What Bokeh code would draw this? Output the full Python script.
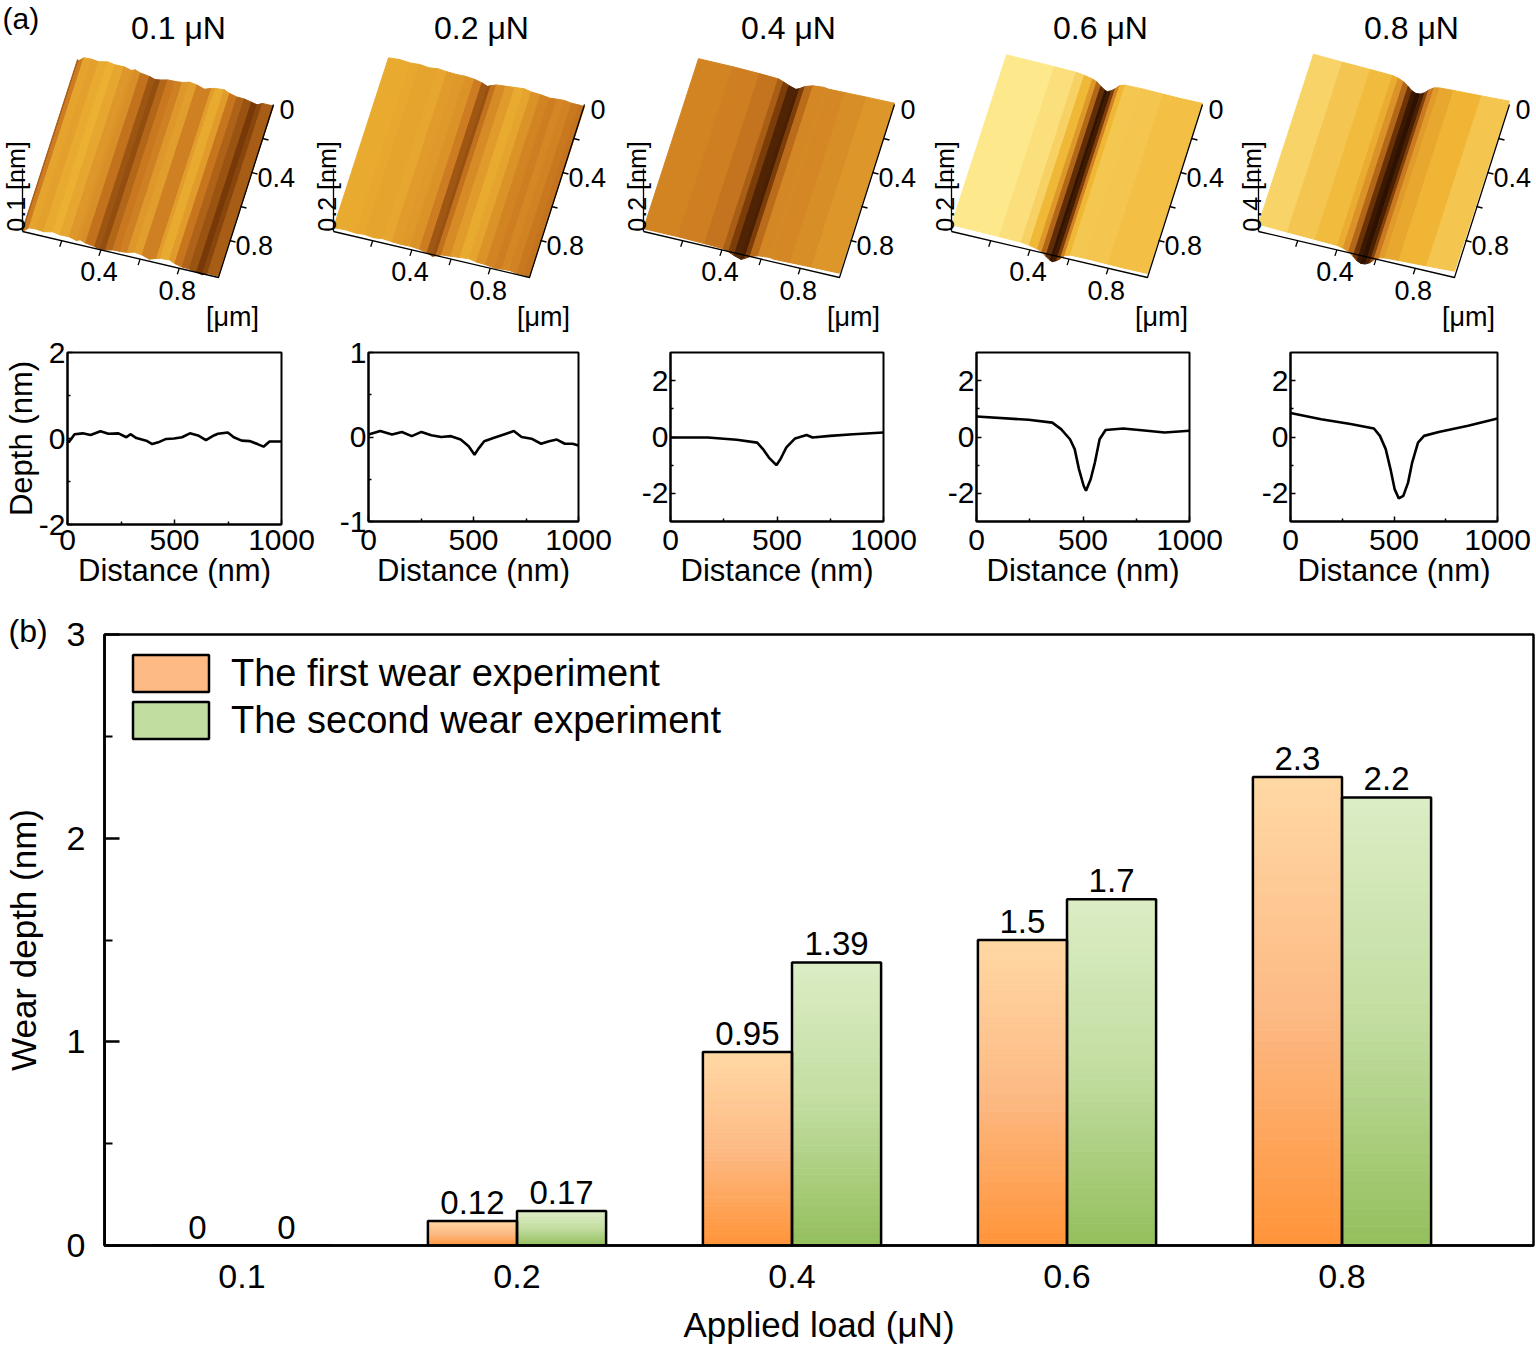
import math
from bokeh.plotting import figure
from bokeh.models import Range1d, FixedTicker, Legend, LegendItem, Title
from bokeh.layouts import column, row
from bokeh.core.properties import value
from bokeh.embed import file_html
from bokeh.resources import INLINE

FONT = "Liberation Sans"

# ---------------- data: panel (b) ----------------
loads = ["0.1", "0.2", "0.4", "0.6", "0.8"]
first_wear = [0, 0.12, 0.95, 1.5, 2.3]
second_wear = [0, 0.17, 1.39, 1.7, 2.2]
series_names = ["The first wear experiment", "The second wear experiment"]

# ---------------- data: panel (a) ----------------
panel_titles = ["0.1 μN", "0.2 μN", "0.4 μN", "0.6 μN", "0.8 μN"]
z_labels = ["0.1 [nm]", "0.2 [nm]", "0.2 [nm]", "0.2 [nm]", "0.4 [nm]"]
lateral_ticks = ["0.4", "0.8"]
depth_ticks = ["0", "0.4", "0.8"]

dist_01 = [0, 6, 33, 71, 108, 154, 191, 238, 275, 294, 322, 368, 396, 424, 461, 498,
           535, 572, 610, 647, 684, 703, 749, 777, 814, 851, 888, 916, 944, 981, 1000]
depth_01 = [-0.05, -0.09, 0.10, 0.12, 0.08, 0.17, 0.11, 0.12, 0.03, 0.10, 0.01, -0.05,
            -0.13, -0.09, -0.01, 0.0, 0.03, 0.12, 0.07, -0.04, 0.07, 0.11, 0.14, 0.03,
            -0.05, -0.06, -0.13, -0.19, -0.07, -0.07, -0.07]

dist_02 = [0, 56, 112, 159, 206, 252, 299, 346, 393, 439, 477, 505, 523, 551, 598, 645,
           692, 729, 776, 822, 860, 897, 935, 972, 1000]
depth_02 = [0.03, 0.07, 0.03, 0.06, 0.01, 0.06, 0.02, 0.0, 0.01, -0.03, -0.11, -0.21,
            -0.14, -0.05, -0.01, 0.03, 0.07, 0.0, -0.02, -0.08, -0.05, -0.03, -0.08, -0.08, -0.10]

dist_04 = [0, 175, 311, 407, 434, 462, 497, 516, 544, 585, 639, 667, 749, 858, 1000]
depth_04 = [-0.02, -0.02, -0.10, -0.20, -0.43, -0.73, -1.0, -0.79, -0.37, -0.05, 0.07,
            -0.02, 0.04, 0.10, 0.16]

dist_06 = [0, 244, 356, 397, 439, 461, 481, 503, 514, 536, 556, 578, 606, 689, 800, 883, 1000]
depth_06 = [0.73, 0.61, 0.51, 0.28, -0.08, -0.43, -1.14, -1.73, -1.91, -1.5, -0.9, -0.08,
            0.25, 0.30, 0.22, 0.16, 0.22]

dist_08 = [0, 148, 290, 403, 432, 460, 483, 503, 523, 545, 568, 588, 616, 645, 716, 858, 1000]
depth_08 = [0.85, 0.63, 0.46, 0.30, 0.04, -0.43, -1.14, -1.85, -2.18, -2.09, -1.62, -0.9,
            -0.2, 0.04, 0.18, 0.40, 0.66]

profiles = [(dist_01, depth_01), (dist_02, depth_02), (dist_04, depth_04),
            (dist_06, depth_06), (dist_08, depth_08)]
profile_ylim = [(-2, 2), (-1, 1), (-3, 3), (-3, 3), (-3, 3)]
profile_yticks = [[-2, 0, 2], [-1, 0, 1], [-2, 0, 2], [-2, 0, 2], [-2, 0, 2]]
profile_yminor = [[-1, 1], [-0.5, 0.5], [-1, 1], [-1, 1], [-1, 1]]
profile_xticks = [0, 500, 1000]
profile_xminor = [250, 750]


# ---------------- helpers ----------------
def hexc(c):
    return "#%02x%02x%02x" % tuple(int(round(min(255, max(0, a)))) for a in c)


def interp_stops(stops, s):
    s = min(max(s, 0.0), 1.0)
    for (s0, c0), (s1, c1) in zip(stops[:-1], stops[1:]):
        if s <= s1:
            t = (s - s0) / (s1 - s0)
            return hexc([a + (b - a) * t for a, b in zip(c0, c1)])
    return hexc(stops[-1][1])


AFM_STOPS = [(0.0, (40, 14, 0)), (0.25, (122, 58, 8)), (0.5, (204, 122, 32)),
             (0.75, (240, 182, 52)), (1.0, (255, 238, 150))]
ORANGE_STOPS = [(0.0, (255, 148, 56)), (0.5, (253, 186, 133)), (1.0, (255, 216, 164))]
GREEN_STOPS = [(0.0, (147, 191, 92)), (0.5, (194, 221, 160)), (1.0, (220, 237, 197))]


# ---------------- top: pseudo-3D AFM surfaces ----------------
TOP_H = 332
top = figure(width=1536, height=TOP_H, x_range=Range1d(0, 1536), y_range=Range1d(TOP_H, 0),
             x_axis_location=None, y_axis_location=None, output_backend="svg",
             toolbar_location=None, min_border=0)
top.grid.visible = False
top.outline_line_color = None

afm_dx = [0, 311, 621, 929, 1236]
title_x = [178, 481, 788, 1100, 1411]
base_x, base_y = 22, 228
ex = (196, 46)
ey = (55, -170)
kz = [22, 22, 8, 5, 5]
s_base = [0.5, 0.62, 0.55, 0.72, 0.66]
s_gain = [1.6, 1.6, 0.5, 0.38, 0.3]


def P(k, u, v, d=0.0):
    return (base_x + afm_dx[k] + ex[0] * u + ey[0] * v,
            base_y + ex[1] * u + ey[1] * v - kz[k] * d)


px, py, pc = [], [], []
for k, (dist, depth) in enumerate(profiles):
    for j in range(len(dist) - 1):
        u0, u1 = dist[j] / 1000, dist[j + 1] / 1000
        d0, d1 = depth[j], depth[j + 1]
        pts = [P(k, u0, 0, d0), P(k, u1, 0, d1), P(k, u1, 1, d1), P(k, u0, 1, d0)]
        px.append([p[0] for p in pts])
        py.append([p[1] for p in pts])
        pc.append(interp_stops(AFM_STOPS, s_base[k] + s_gain[k] * (d0 + d1) / 2))
top.patches(px, py, fill_color=pc, line_color=pc, line_width=1)

# 3D box axes
lx, ly = [], []
tx, ty, tt, ta = [], [], [], []
for k in range(5):
    a = P(k, 0, 0); b = P(k, 1, 0); c = P(k, 1, 1)
    lx.append([a[0], b[0], c[0]]); ly.append([a[1] + 3, b[1] + 3, c[1]])
    lx.append([a[0], a[0]]); ly.append([a[1] + 3, a[1] - 60])
    for u in (0.2, 0.4, 0.6, 0.8):
        q = P(k, u, 0)
        lx.append([q[0], q[0] - 2]); ly.append([q[1] + 3, q[1] + 9])
        r = P(k, 1, 1 - u)
        lx.append([r[0], r[0] + 6]); ly.append([r[1], r[1] + 1.5])
    for u, lab in zip((0.4, 0.8), lateral_ticks):
        q = P(k, u, 0)
        tx.append(q[0] - 2); ty.append(q[1] + 25); tt.append(lab); ta.append("center")
    tx.append(b[0] + 14); ty.append(b[1] + 42); tt.append("[μm]"); ta.append("center")
    for v, lab in zip((0.0, 0.4, 0.8), depth_ticks):
        r = P(k, 1, 1 - v)
        tx.append(r[0] + 6); ty.append(r[1] + 5); tt.append(lab); ta.append("left")
top.multi_line(lx, ly, line_color="black", line_width=1.3)
top.text(x=tx, y=ty, text=tt, text_align=ta, text_baseline="middle",
         text_font=value(FONT), text_font_size="27px", text_color="black")
top.text(x=[P(k, 0, 0)[0] - 7 for k in range(5)], y=[186] * 5, text=z_labels, angle=math.pi / 2,
         text_align="center", text_baseline="middle", text_font=value(FONT),
         text_font_size="25px", text_color="black")
top.text(x=title_x, y=[27] * 5, text=panel_titles, text_align="center", text_baseline="middle",
         text_font=value(FONT), text_font_size="32px", text_color="black")
top.text(x=[2], y=[18], text=["(a)"], text_align="left", text_baseline="middle",
         text_font=value(FONT), text_font_size="30px", text_color="black")

# ---------------- middle: depth profiles ----------------
frame_w = [214, 210, 213, 213, 207]
frame_h = [172, 169, 169, 169, 169]
b_left = [67, 40, 52, 48, 56]
b_right = [47, 40, 45, 45, 39]
b_top = [349 - TOP_H, 352 - TOP_H, 352 - TOP_H, 352 - TOP_H, 352 - TOP_H]
b_bottom = 76

prof_figs = []
for k, (dist, depth) in enumerate(profiles):
    p = figure(frame_width=frame_w[k], frame_height=frame_h[k],
               x_range=Range1d(0, 1000), y_range=Range1d(*profile_ylim[k]),
               min_border_left=b_left[k], min_border_right=b_right[k],
               min_border_top=b_top[k], min_border_bottom=b_bottom,
               output_backend="svg", toolbar_location=None)
    p.line(dist, depth, line_color="black", line_width=2.6)
    p.grid.visible = False
    p.outline_line_color = "black"
    p.outline_line_width = 2
    p.xaxis.ticker = FixedTicker(ticks=profile_xticks, minor_ticks=profile_xminor)
    p.yaxis.ticker = FixedTicker(ticks=profile_yticks[k], minor_ticks=profile_yminor[k])
    p.yaxis.major_label_overrides = {t: str(t) for t in profile_yticks[k]}
    p.xaxis.axis_label = "Distance (nm)"
    if k == 0:
        p.yaxis.axis_label = "Depth (nm)"
    for ax in p.axis:
        ax.axis_line_width = 2
        ax.major_tick_in = 5
        ax.major_tick_out = 0
        ax.minor_tick_in = 3
        ax.minor_tick_out = 0
        ax.major_tick_line_width = 1.5
        ax.minor_tick_line_width = 1.5
        ax.major_label_text_font = FONT
        ax.major_label_text_font_size = "30px"
        ax.major_label_text_color = "black"
        ax.axis_label_text_font = FONT
        ax.axis_label_text_font_size = "31px"
        ax.axis_label_text_font_style = "normal"
        ax.axis_label_text_color = "black"
    p.yaxis.major_label_standoff = 2
    p.yaxis.axis_label_standoff = -3
    p.xaxis.major_label_standoff = 5 if k == 0 else 8
    p.xaxis.axis_label_standoff = 0
    prof_figs.append(p)

ROW_END = 349 + 172 + b_bottom

# ---------------- bottom: bar chart ----------------
bar = figure(frame_width=1429, frame_height=611, x_range=Range1d(0, 1429 / 275), y_range=Range1d(0, 3),
             min_border_left=104, min_border_right=3, min_border_top=634 - ROW_END,
             min_border_bottom=97, output_backend="svg", toolbar_location=None)
bar.grid.visible = False
bar.outline_line_color = "black"
bar.outline_line_width = 2.5

centers = [i + 0.5 for i in range(len(loads))]
half = 0.162
bw = 0.324
N = 48
sx, sb, st, sc = [], [], [], []
for vals, off, stops in ((first_wear, -half, ORANGE_STOPS), (second_wear, half, GREEN_STOPS)):
    for c, v in zip(centers, vals):
        for j in range(N):
            sx.append(c + off)
            sb.append(v * j / N)
            st.append(v * (j + 1) / N)
            sc.append(interp_stops(stops, (j + 0.5) / N))
bar.vbar(x=sx, bottom=sb, top=st, width=bw, fill_color=sc, line_color=sc, line_width=0.8)

x1 = [c - half for c in centers]
x2 = [c + half for c in centers]
bar.vbar(x=x1, top=first_wear, width=bw, fill_color=None, line_color="black", line_width=2.5)
bar.vbar(x=x2, top=second_wear, width=bw, fill_color=None, line_color="black", line_width=2.5)

bar.text(x=x1 + x2, y=first_wear + second_wear, text=[str(v) for v in first_wear + second_wear],
         text_align="center", text_baseline="bottom", y_offset=-7,
         text_font=value(FONT), text_font_size="33px", text_color="black")

# legend swatches (drawn outside the visible x range)
leg1 = bar.vbar(x=[-10], top=[1], width=bw, fill_color=interp_stops(ORANGE_STOPS, 0.5),
                line_color="black", line_width=2.5)
leg2 = bar.vbar(x=[-10], top=[1], width=bw, fill_color=interp_stops(GREEN_STOPS, 0.5),
                line_color="black", line_width=2.5)
legend = Legend(items=[LegendItem(label=series_names[0], renderers=[leg1]),
                       LegendItem(label=series_names[1], renderers=[leg2])],
                location=(19, 502), margin=0, padding=0, spacing=1,
                glyph_width=95, glyph_height=46, label_height=46, label_standoff=13,
                label_text_font=FONT, label_text_font_size="38px", label_text_color="black",
                border_line_color=None, background_fill_alpha=0)
bar.add_layout(legend)

bar.xaxis.ticker = FixedTicker(ticks=centers, minor_ticks=[])
bar.xaxis.major_label_overrides = {c: l for c, l in zip(centers, loads)}
bar.xaxis.major_tick_in = 0
bar.xaxis.major_tick_out = 0
bar.xaxis.major_label_standoff = 19
bar.xaxis.axis_label = "Applied load (μN)"
bar.xaxis.axis_label_standoff = 14
bar.yaxis.ticker = FixedTicker(ticks=[0, 1, 2, 3], minor_ticks=[0.5, 1.5, 2.5])
bar.yaxis.major_tick_in = 15
bar.yaxis.major_tick_out = 0
bar.yaxis.minor_tick_in = 8
bar.yaxis.minor_tick_out = 0
bar.yaxis.major_label_standoff = 19
bar.yaxis.axis_label = "Wear depth (nm)"
bar.yaxis.axis_label_standoff = 21
for ax in bar.axis:
    ax.axis_line_width = 2.5
    ax.major_tick_line_width = 2.5
    ax.minor_tick_line_width = 2
    ax.major_label_text_font = FONT
    ax.major_label_text_font_size = "34px"
    ax.major_label_text_color = "black"
    ax.axis_label_text_font = FONT
    ax.axis_label_text_font_size = "35px"
    ax.axis_label_text_font_style = "normal"
    ax.axis_label_text_color = "black"

bar.add_layout(Title(text="(b)", align="left", offset=-96, standoff=-28,
                     text_font=FONT, text_font_size="32px", text_font_style="normal",
                     text_color="black"), "above")

layout = column(row(top), row(*prof_figs), row(bar))
open("out.html", "w").write(file_html(layout, INLINE))
